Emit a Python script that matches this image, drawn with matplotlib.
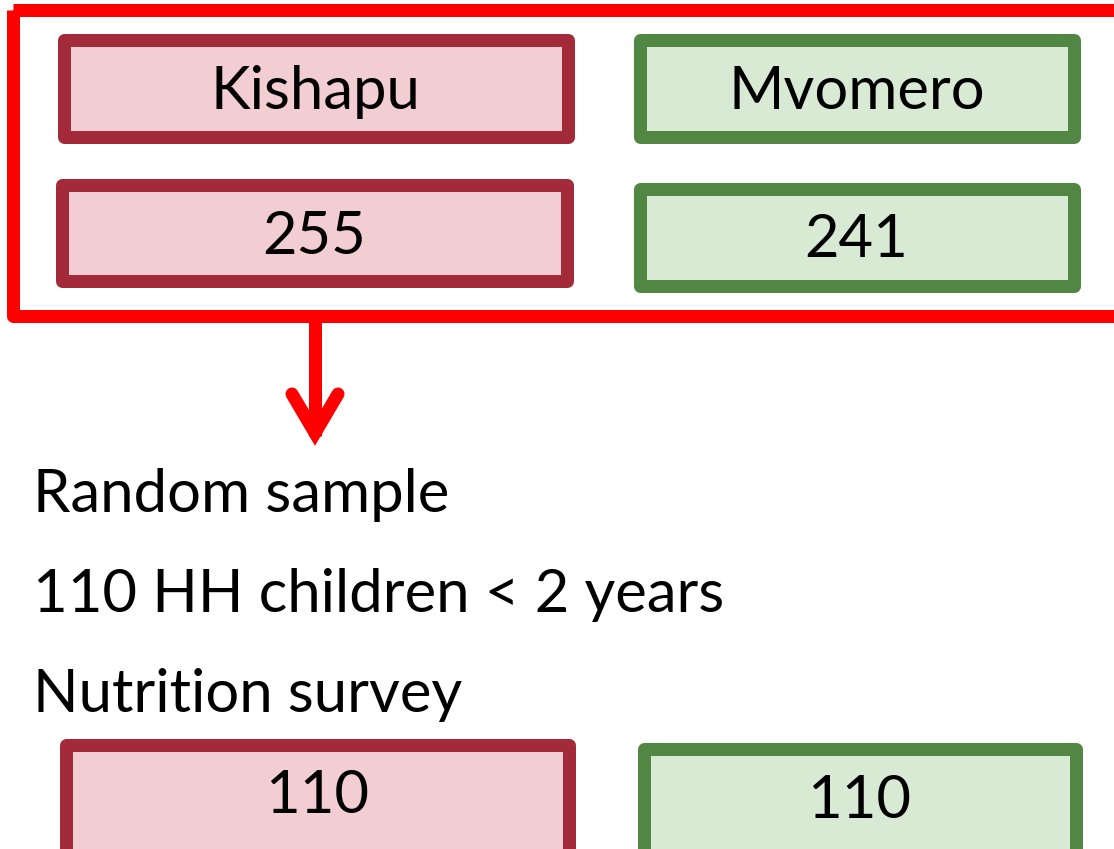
import matplotlib
matplotlib.use("Agg")
import matplotlib.pyplot as plt
from matplotlib.patches import Rectangle

districts = ["Kishapu", "Mvomero"]
households = [255, 241]
sampled = [110, 110]
steps = ["Random sample", "110 HH children < 2 years", "Nutrition survey"]

edge_cols = ["#A22A39", "#518743"]
fill_cols = ["#F2CDD2", "#D9EAD4"]

W, H = 1114, 849
fig = plt.figure(figsize=(W / 100, H / 100), dpi=100)
ax = fig.add_axes([0, 0, 1, 1])
ax.set_xlim(0, W)
ax.set_ylim(H, 0)
ax.axis("off")

FONT = "Lato"
FS = 43
PX = 72 / 100  # points per pixel
lw_box = 13 * PX


def box(x0, y0, x1, y1, ec, fc, text=None, baseline=None):
    ax.add_patch(Rectangle((x0, y0), x1 - x0, y1 - y0, ec=ec, fc=fc,
                           lw=lw_box, joinstyle="round"))
    if text is not None:
        ax.text((x0 + x1) / 2, baseline, text, ha="center", va="baseline",
                fontsize=FS, family=FONT, color="black")


# outer red frame
ax.add_patch(Rectangle((12.5, 9.5), 1115.5 - 12.5, 316 - 9.5,
                       ec="#FF0000", fc="none", lw=lw_box, joinstyle="round"))

# row 1: district names
box(63.5, 39.5, 567.5, 136.5, edge_cols[0], fill_cols[0], districts[0], 109)
box(639.5, 39.5, 1073.5, 136.5, edge_cols[1], fill_cols[1], districts[1], 109)
# row 2: households
box(62, 184.5, 567, 280.5, edge_cols[0], fill_cols[0], str(households[0]), 254)
box(639.5, 188.5, 1073.5, 285.5, edge_cols[1], fill_cols[1], str(households[1]), 257)

# arrow
ax.plot([315, 315], [316, 436], color="#FF0000", lw=lw_box, solid_capstyle="butt")
ax.plot([292, 315, 338], [394, 433, 394], color="#FF0000", lw=lw_box,
        solid_joinstyle="miter", solid_capstyle="round")

# step texts
for t, yb in zip(steps, [512, 612, 712]):
    ax.text(33, yb, t, ha="left", va="baseline", fontsize=FS, family=FONT,
            color="black")

# bottom boxes (cut off by figure edge)
box(65.5, 744.5, 568.5, 875, edge_cols[0], fill_cols[0], str(sampled[0]), 813)
box(643.5, 748.5, 1075.5, 875, edge_cols[1], fill_cols[1], str(sampled[1]), 818)

fig.savefig("out.png", dpi=100)
